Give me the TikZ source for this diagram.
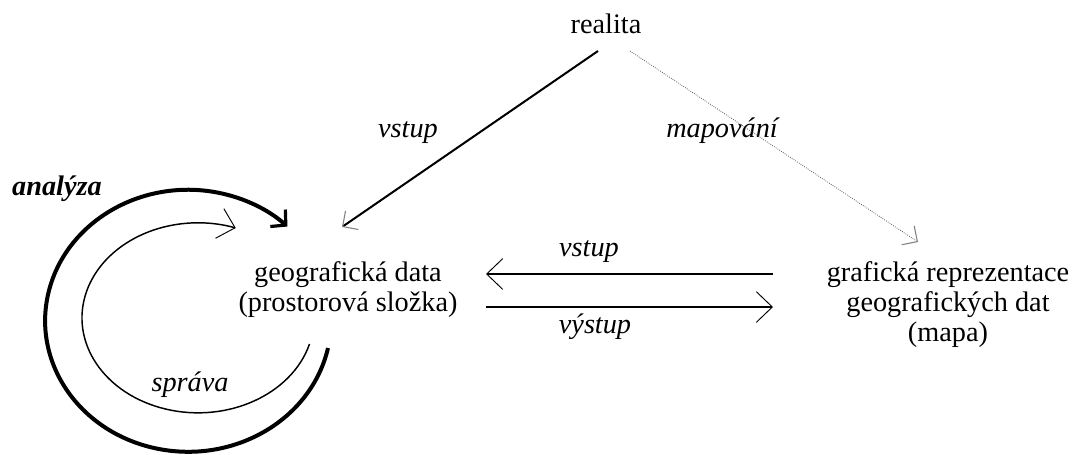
\documentclass[tikz,border=0pt]{standalone}
\usepackage{fontspec}
\setmainfont{Liberation Serif}
\usetikzlibrary{arrows.meta}

\begin{document}
\begin{tikzpicture}[x=0.75pt,y=-0.75pt,
	txt/.style={font=\fontsize{21.2}{22.5}\selectfont,inner sep=0pt,anchor=base},
	lab/.style={txt,font=\fontsize{21.2}{22.5}\selectfont\itshape},
	greytip/.style={-{Straight Barb[length=8.5pt,width=17pt,line width=0.8pt,color=gray]}},
	opentip/.style={-{Straight Barb[length=12pt,width=23pt,line width=0.7pt]}},
	bigtip/.style={-{Straight Barb[length=8pt,width=17pt,line width=2.4pt]}}]
	\useasboundingbox (0,0) rectangle (1075,454);
	\node [txt] (realita) at (606,33) {realita};
	\node [txt,align=center] (data) at (348,311) {geografická data\\(prostorová složka)};
	\node [txt,align=center] (mapa) at (948,341) {grafická reprezentace\\geografických dat\\(mapa)};
	\node [lab] (vstupA) at (408,137) {vstup};
	\node [lab] (mapovani) at (722,137) {mapování};
	\node [lab] (vstupB) at (589,256) {vstup};
	\node [lab] (vystup) at (595,333) {výstup};
	\node [lab] (sprava) at (190,391) {správa};
	\node [lab,font=\fontsize{21.2}{22.5}\selectfont\bfseries\itshape] (analyza) at (57,195) {analýza};
	\coordinate (R1) at (598,51);
	\coordinate (R2) at (630,51);
	\coordinate (D1) at (342,227);
	\coordinate (M1) at (918,242);
	\coordinate (D2) at (486,274);
	\coordinate (D3) at (486,307);
	\coordinate (M2) at (773,274);
	\coordinate (M3) at (773,307);
	\coordinate (A1) at (328,348);
	\coordinate (S1) at (309.5,344);
	\draw [line width=1.5pt,greytip] (R1) -- (D1);
	\draw [densely dotted,gray!70!black,line width=0.6pt,greytip] (R2) -- (M1);
	\draw [line width=1.5pt,opentip] (M2) -- (D2);
	\draw [line width=1.5pt,opentip] (D3) -- (M3);
	\draw [line width=3pt,bigtip] (A1) arc [start angle=-12,end angle=-314,x radius=107.25pt,y radius=98.25pt];
	\draw [line width=1.1pt,opentip] (S1) arc [start angle=-16,end angle=-289,x radius=87pt,y radius=71.25pt];
\end{tikzpicture}
\end{document}
